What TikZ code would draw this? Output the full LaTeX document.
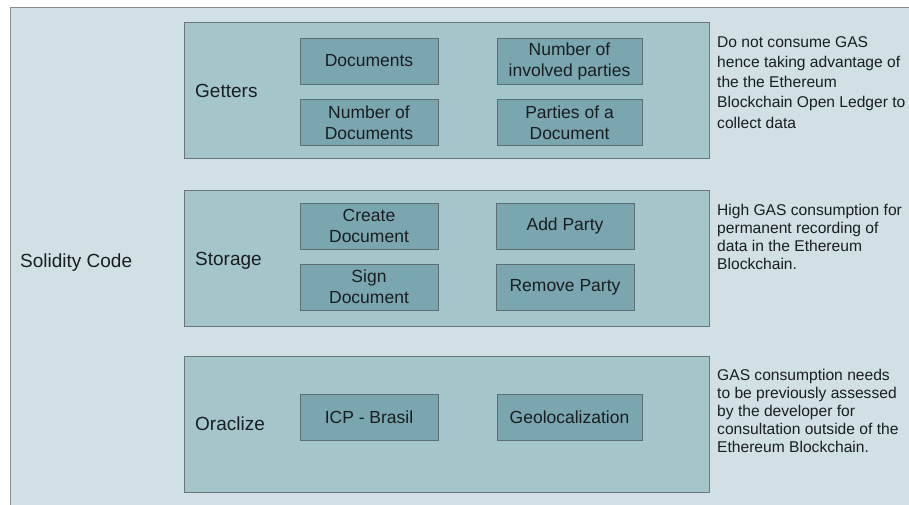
\documentclass[tikz,border=0pt]{standalone}
\usepackage{fontspec}
\setmainfont{Liberation Sans}
\definecolor{outerbg}{RGB}{209,224,228}
\definecolor{outerline}{RGB}{135,140,142}
\definecolor{panelbg}{RGB}{164,197,202}
\definecolor{panelline}{RGB}{105,118,122}
\definecolor{boxbg}{RGB}{122,166,176}
\definecolor{boxline}{RGB}{92,110,116}
\definecolor{inktext}{RGB}{25,30,32}
\begin{document}
\begin{tikzpicture}[x=1pt,y=-1pt,
    panel/.style={draw=panelline,fill=panelbg,line width=0.8pt,minimum width=525pt,minimum height=136pt,inner sep=0pt},
    fn/.style={draw=boxline,fill=boxbg,line width=0.8pt,minimum height=46pt,inner sep=0pt,align=center,text=inktext,font=\fontsize{17.5}{21}\selectfont},
    narrow/.style={fn,minimum width=138pt},
    wide/.style={fn,minimum width=145pt},
    layer/.style={anchor=base west,inner sep=0pt,text=inktext,font=\fontsize{19}{22}\selectfont},
    note/.style={anchor=north west,inner sep=0pt,align=left,text=inktext,font=\fontsize{15.6}{18}\selectfont}]
  \useasboundingbox (0,0) rectangle (909,505);
  \fill[outerbg] (10,7) rectangle (909,505);
  \draw[outerline,line width=0.8pt] (10,505) -- (10,7) -- (909,7);

  \node[layer] (code) at (20,267) {Solidity Code};

  \node[panel] (getters) at (446.5,90) {};
  \node[panel] (storage) at (446.5,258) {};
  \node[panel] (oraclize) at (446.5,424) {};

  \node[layer] (gettersname) at (195,98) {Getters};
  \node[layer] (storagename) at (195,265) {Storage};
  \node[layer] (oraclizename) at (195,430) {Oraclize};

  \node[narrow] (docs) at (369,61) {Documents};
  \node[wide] (nparties) at (569.5,61) {Number of\\involved parties};
  \node[narrow] (ndocs) at (369,122.5) {Number of\\Documents};
  \node[wide] (pdoc) at (569.5,122.5) {Parties of a\\Document};

  \node[narrow] (create) at (369,226) {Create\\Document};
  \node[narrow] (addparty) at (565,226) {Add Party};
  \node[narrow] (sign) at (369,287) {Sign\\Document};
  \node[narrow] (removeparty) at (565,287.5) {Remove Party};

  \node[narrow] (icp) at (369,417) {ICP - Brasil};
  \node[wide] (geo) at (569.5,417) {Geolocalization};

  \node[note,font=\fontsize{15.6}{20.3}\selectfont] (gettersnote) at (717,36) {Do not consume GAS\\hence taking advantage of\\the the Ethereum\\Blockchain Open Ledger to\\collect data};
  \node[note] (storagenote) at (717,204) {High GAS consumption for\\permanent recording of\\data in the Ethereum\\Blockchain.};
  \node[note] (oraclizenote) at (717,369) {GAS consumption needs\\to be previously assessed\\by the developer for\\consultation outside of the\\Ethereum Blockchain.};
\end{tikzpicture}
\end{document}
